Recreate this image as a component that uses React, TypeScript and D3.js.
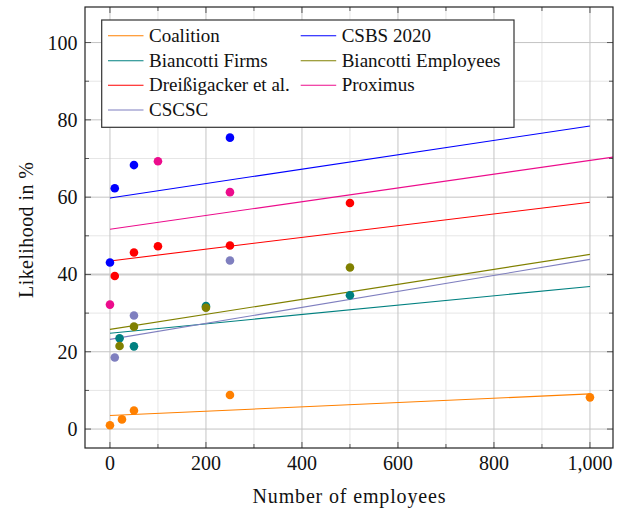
import React from "react";
import * as d3 from "d3";

const seriesNames = ["Coalition", "CSBS 2020", "Biancotti Firms", "Biancotti Employees", "Dreißigacker et al.", "Proximus", "CSCSC"];
const seriesColors = ["#ff8000", "#0000ff", "#008080", "#808000", "#ff0000", "#ec0c8c", "#7f7fbf"];

const coalitionX = [0, 25, 50, 250, 1000];
const coalitionY = [1.0, 2.5, 4.8, 8.8, 8.2];
const csbsX = [0, 10, 50, 250];
const csbsY = [43.1, 62.3, 68.3, 75.4];
const firmsX = [20, 50, 200, 500];
const firmsY = [23.5, 21.4, 31.8, 34.6];
const employeesX = [20, 50, 200, 500];
const employeesY = [21.5, 26.5, 31.4, 41.8];
const dreissigackerX = [10, 50, 100, 250, 500];
const dreissigackerY = [39.6, 45.7, 47.3, 47.5, 58.5];
const proximusX = [0, 100, 250];
const proximusY = [32.2, 69.3, 61.3];
const cscscX = [10, 50, 250];
const cscscY = [18.5, 29.4, 43.6];

// trend lines: start x/value and end x/value
const trendStartX = [0, 0, 0, 0, 0, 0, 0];
const trendStartY = [3.5, 59.8, 24.8, 25.8, 43.5, 51.7, 23.2];
const trendEndX = [1000, 1000, 1000, 1000, 1000, 1050, 1000];
const trendEndY = [9.1, 78.4, 36.9, 45.2, 58.7, 70.4, 43.9];

const xMajorTicks = [0, 200, 400, 600, 800, 1000];
const xMinorTicks = [100, 300, 500, 700, 900];
const yMajorTicks = [0, 20, 40, 60, 80, 100];
const yMinorTicks = [10, 30, 50, 70, 90];

const W = 624, H = 511;
const L = 85, R = 613, T = 7, B = 448;
const FONT = "'Liberation Serif', 'Times New Roman', serif";

export default function App() {
  const x = d3.scaleLinear().domain([-52, 1048]).range([L, R]);
  const y = d3.scaleLinear().domain([-4.9, 109.2]).range([B, T]);
  const xs = [coalitionX, csbsX, firmsX, employeesX, dreissigackerX, proximusX, cscscX];
  const ys = [coalitionY, csbsY, firmsY, employeesY, dreissigackerY, proximusY, cscscY];
  const line = d3.line<[number, number]>().x(d => x(d[0])).y(d => y(d[1]));
  const fmt = d3.format(",");

  const legendRowY = [35.7, 60.7, 85.3, 110];
  return (
    <svg width={W} height={H} style={{ position: "absolute", left: 0, top: 0, background: "#fff", fontFamily: FONT }}>
      <defs>
        <clipPath id="plot"><rect x={L} y={T} width={R - L} height={B - T} /></clipPath>
      </defs>
      {/* grid */}
      {xMinorTicks.map(t => <line key={"xm" + t} x1={x(t)} x2={x(t)} y1={T} y2={B} stroke="#e6e6e6" strokeWidth={1} />)}
      {yMinorTicks.map(t => <line key={"ym" + t} y1={y(t)} y2={y(t)} x1={L} x2={R} stroke="#e6e6e6" strokeWidth={1} />)}
      {xMajorTicks.map(t => <line key={"xM" + t} x1={x(t)} x2={x(t)} y1={T} y2={B} stroke="#c4c4c4" strokeWidth={1} />)}
      {yMajorTicks.map(t => <line key={"yM" + t} y1={y(t)} y2={y(t)} x1={L} x2={R} stroke="#c4c4c4" strokeWidth={t === 40 ? 2 : 1} opacity={t === 40 ? 0.8 : 1} />)}
      {/* ticks */}
      {xMajorTicks.map(t => (
        <g key={"xt" + t} stroke="#555" strokeWidth={1}>
          <line x1={x(t)} x2={x(t)} y1={B} y2={B - 6} />
          <line x1={x(t)} x2={x(t)} y1={T} y2={T + 6} />
        </g>
      ))}
      {xMinorTicks.map(t => (
        <g key={"xmt" + t} stroke="#555" strokeWidth={1}>
          <line x1={x(t)} x2={x(t)} y1={B} y2={B - 4} />
          <line x1={x(t)} x2={x(t)} y1={T} y2={T + 4} />
        </g>
      ))}
      {yMajorTicks.map(t => (
        <g key={"yt" + t} stroke="#555" strokeWidth={1}>
          <line x1={L} x2={L + 6} y1={y(t)} y2={y(t)} />
          <line x1={R} x2={R - 6} y1={y(t)} y2={y(t)} />
        </g>
      ))}
      {yMinorTicks.map(t => (
        <g key={"ymt" + t} stroke="#555" strokeWidth={1}>
          <line x1={L} x2={L + 4} y1={y(t)} y2={y(t)} />
          <line x1={R} x2={R - 4} y1={y(t)} y2={y(t)} />
        </g>
      ))}
      {/* trend lines */}
      <g clipPath="url(#plot)">
        {seriesNames.map((n, i) => (
          <path key={"tl" + i} d={line([[trendStartX[i], trendStartY[i]], [trendEndX[i], trendEndY[i]]]) || ""} stroke={seriesColors[i]} strokeWidth={1.1} fill="none" />
        ))}
        {seriesNames.map((n, i) => (
          <g key={"pts" + i}>
            {xs[i].map((xv, j) => (
              <circle key={j} cx={x(xv)} cy={y(ys[i][j])} r={4.3} fill={seriesColors[i]} />
            ))}
          </g>
        ))}
      </g>
      {/* frame */}
      <rect x={L} y={T} width={R - L} height={B - T} fill="none" stroke="#222" strokeWidth={1.2} />
      {/* tick labels */}
      {xMajorTicks.map(t => (
        <text key={"xl" + t} x={x(t)} y={470} textAnchor="middle" fontSize={20} fill="#111">{fmt(t)}</text>
      ))}
      {yMajorTicks.map(t => (
        <text key={"yl" + t} x={77.5} y={y(t) + 7} textAnchor="end" fontSize={20} fill="#111">{t}</text>
      ))}
      <text x={(L + R) / 2} y={503} textAnchor="middle" fontSize={20} fill="#111" textLength={193} lengthAdjust="spacing">Number of employees</text>
      <text transform={`translate(33,230) rotate(-90)`} textAnchor="middle" fontSize={20} fill="#111" textLength={136} lengthAdjust="spacing">Likelihood in %</text>
      {/* legend */}
      <rect x={101.7} y={20} width={412.3} height={107.3} fill="#fff" stroke="#333" strokeWidth={1.2} />
      {seriesNames.map((n, i) => {
        const col = i === 6 ? 0 : i % 2;
        const row = i === 6 ? 3 : Math.floor(i / 2);
        const lx = col === 0 ? 108 : 300.7;
        const ry = legendRowY[row];
        return (
          <g key={"lg" + i}>
            <line x1={lx} x2={lx + 35.5} y1={ry} y2={ry} stroke={seriesColors[i]} strokeWidth={1.1} />
            <text x={lx + 41} y={ry + 6} fontSize={19} fill="#111">{n}</text>
          </g>
        );
      })}
    </svg>
  );
}
